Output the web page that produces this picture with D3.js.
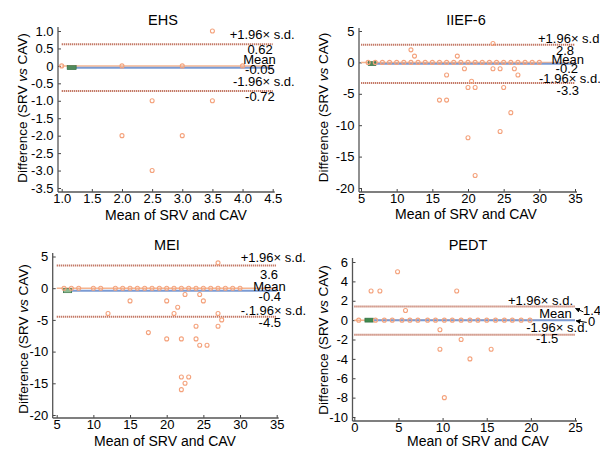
<!DOCTYPE html>
<html>
<head>
<meta charset="utf-8">
<script src="https://cdn.jsdelivr.net/npm/d3@7"></script>
<style>
  body { margin: 0; background: #fff; }
  text { font-family: "Liberation Sans", Arial, sans-serif; fill: #000; }
</style>
</head>
<body>
<script>
// ---- data ----
// EHS
const ehsAvg  = [1.0, 2.0, 3.0, 4.0, 3.5, 2.5, 3.5, 2.0, 3.0, 2.5];
const ehsDiff = [0, 0, 0, 0, 1, -1, -1, -2, -2, -3];
const ehsLimits = [0.62, -0.05, -0.72];
const ehsLimitText = ["0.62", "-0.05", "-0.72"];
const ehsXTicks = [1.0, 1.5, 2.0, 2.5, 3.0, 3.5, 4.0, 4.5];
const ehsYTicks = [1.0, 0.5, 0, -0.5, -1.0, -1.5, -2.0, -2.5, -3.0, -3.5];

// IIEF-6
const iiefAvg  = [6, 7, 8, 9, 10, 11, 12, 13, 14, 15, 16, 17, 18, 19, 20, 21, 22, 23, 24, 25, 26, 27, 28, 29, 30,
                  12, 12.5, 18.5, 23.5, 19.5, 17, 20.5, 20, 21, 23.5, 24.5, 26.5, 27, 25, 16, 17, 26, 24.5, 20, 21];
const iiefDiff = [0, 0, 0, 0, 0, 0, 0, 0, 0, 0, 0, 0, 0, 0, 0, 0, 0, 0, 0, 0, 0, 0, 0, 0, 0,
                  2, 1, 1, 3, -1, -2, -3, -4, -4, -1, -1, -1, -2, -4, -6, -6, -8, -11, -12, -18];
const iiefLimits = [2.8, -0.2, -3.3];
const iiefLimitText = ["2.8", "-0.2", "-3.3"];
const iiefXTicks = [5, 10, 15, 20, 25, 30, 35];
const iiefYTicks = [5, 0, -5, -10, -15, -20];

// MEI
const meiAvg  = [6, 7, 8, 10, 11, 13, 14, 15, 16, 17, 18, 19, 20, 21, 22, 23, 24, 25, 26, 27, 28, 29, 30,
                 27, 22.5, 24.5, 15, 20, 25, 21.5, 12, 21, 27, 27.5, 24, 27, 17.5, 20, 22, 24, 24.5, 25.5, 22, 23, 22.5, 22];
const meiDiff = [0, 0, 0, 0, 0, 0, 0, 0, 0, 0, 0, 0, 0, 0, 0, 0, 0, 0, 0, 0, 0, 0, 0,
                 4, -1, -1, -2, -2, -2, -3, -4, -4, -4, -5, -6, -6, -7, -8, -8, -8, -9, -9, -14, -14, -15, -16];
const meiLimits = [3.6, -0.4, -4.5];
const meiLimitText = ["3.6", "-0.4", "-4.5"];
const meiXTicks = [5, 10, 15, 20, 25, 30, 35];
const meiYTicks = [5, 0, -5, -10, -15, -20];

// PEDT
const pedtAvg  = [0.5, 2.4, 3.4, 4.3, 5.4, 6.3, 7.2, 8.3, 9.2, 10.2, 11.1, 12.1, 13.1, 14.0, 15.0, 16.0, 17.0, 17.9, 18.9, 19.9,
                  4.9, 1.9, 2.9, 11.6, 5.8, 9.7, 9.7, 12.1, 13.1, 15.5, 10.2];
const pedtDiff = [0, 0, 0, 0, 0, 0, 0, 0, 0, 0, 0, 0, 0, 0, 0, 0, 0, 0, 0, 0,
                  5, 3, 3, 3, 1, -1, -3, -2, -4, -3, -8];
const pedtLimits = [1.4, 0, -1.5];
const pedtLimitText = ["1.4", "0", "-1.5"];
const pedtXTicks = [0, 5, 10, 15, 20, 25];
const pedtYTicks = [6, 4, 2, 0, -2, -4, -6, -8, -10];

const limitNames = ["+1.96\u00d7 s.d.", "Mean", "-1.96\u00d7 s.d."];

// ---- layout ----
const W = 600, H = 449;
const svg = d3.select("body").append("svg").attr("width", W).attr("height", H);

const fmt1 = d => d === 0 ? "0" : d.toFixed(1);
const fmt0 = d => String(d);

const panels = [
  { title: "EHS", avg: ehsAvg, diff: ehsDiff, limits: ehsLimits, limitText: ehsLimitText, names: limitNames,
    xDomain: [1, 4.5], xRange: [61.7, 272.7], yDomain: [-3.5, 1], yRange: [188, 31],
    xTicks: ehsXTicks, yTicks: ehsYTicks, xFmt: fmt1, yFmt: fmt1,
    yAxisX: 58, xAxisY: 192, yAxisTop: 27, green: [1.09, 1.24], greenFill: "#4f8a5c",
    titleXY: [163, 25], xLabXY: [176, 220], yLabXY: [22, 108],
    lab: [
      { name: ["end", 22, -5], val: ["end", 0, 10] },
      { name: ["end", 3, -4], val: ["end", 2, 6.5] },
      { name: ["end", 22, -5], val: ["end", 2, 10] } ] },
  { title: "IIEF-6", avg: iiefAvg, diff: iiefDiff, limits: iiefLimits, limitText: iiefLimitText, names: limitNames,
    xDomain: [5, 35], xRange: [361, 575], yDomain: [-20, 5], yRange: [188, 31],
    xTicks: iiefXTicks, yTicks: iiefYTicks, xFmt: fmt0, yFmt: fmt0,
    yAxisX: 359, xAxisY: 192, yAxisTop: 28, green: [6.0, 7.1], greenFill: "#4f8a5c",
    titleXY: [466, 25], xLabXY: [466, 219], yLabXY: [323, 107.5],
    lab: [
      { name: ["start", -37, -2], val: ["end", -1, 10] },
      { name: ["end", 9, 0.6], val: ["end", 3, 9] },
      { name: ["start", -36, 0.2], val: ["end", 4, 12] } ] },
  { title: "MEI", avg: meiAvg, diff: meiDiff, limits: meiLimits, limitText: meiLimitText,
    names: ["+1.96\u00d7 s.d.", "Mean", "-.1.96\u00d7 s.d."],
    xDomain: [5, 35], xRange: [56.7, 276.7], yDomain: [-20, 5], yRange: [415, 256.5],
    xTicks: meiXTicks, yTicks: meiYTicks, xFmt: fmt0, yFmt: fmt0,
    yAxisX: 52.7, xAxisY: 418, yAxisTop: 253, green: [5.9, 7.05], greenFill: "#8fbb93",
    titleXY: [167, 250], xLabXY: [165, 446], yLabXY: [23, 339],
    lab: [
      { name: ["start", -36, -3.2], val: ["end", 1.3, 13.5] },
      { name: ["end", 9, 0], val: ["end", 4.3, 10] },
      { name: ["start", -36, -1.8], val: ["end", 4.3, 10] } ] },
  { title: "PEDT", avg: pedtAvg, diff: pedtDiff, limits: pedtLimits, limitText: pedtLimitText, names: limitNames,
    xDomain: [0, 25], xRange: [354.3, 575], yDomain: [-10, 6], yRange: [417, 262],
    xTicks: pedtXTicks, yTicks: pedtYTicks, xFmt: fmt0, yFmt: fmt0,
    yAxisX: 352.5, xAxisY: 421, yAxisTop: 258, green: [1.2, 2.15], greenFill: "#3f8a4f",
    titleXY: [468, 250], xLabXY: [478, 446], yLabXY: [323, 340],
    lab: [
      { name: ["end", -2, -2], val: ["start", 8, 8], arrow: [8.3, 5.3, 0.5, 1.8] },
      { name: ["end", -3.3, -2.3], val: ["start", 13, 5.7], arrow: [11.7, 2.3, 1, 0.6] },
      { name: ["end", 13, -2.8], val: ["end", -16.7, 8.8] } ] }
];

svg.append("defs").append("marker")
    .attr("id", "arr")
    .attr("viewBox", "0 0 10 10")
    .attr("refX", 9).attr("refY", 5)
    .attr("markerWidth", 5).attr("markerHeight", 5)
    .attr("orient", "auto")
  .append("path")
    .attr("d", "M0,0L10,5L0,10z")
    .attr("fill", "#000");

panels.forEach(drawPanel);

function drawPanel(p) {
  var g = svg.append("g");
  var x = d3.scaleLinear().domain(p.xDomain).range(p.xRange);
  var y = d3.scaleLinear().domain(p.yDomain).range(p.yRange);
  var x0 = p.xRange[0], x1 = p.xRange[1];

  // axes
  var yAx = g.append("g")
      .attr("transform", "translate(" + p.yAxisX + ",0)")
      .call(d3.axisLeft(y).tickValues(p.yTicks).tickFormat(p.yFmt)
              .tickSizeInner(-3).tickSizeOuter(0).tickPadding(4.5));
  var xAx = g.append("g")
      .attr("transform", "translate(0," + p.xAxisY + ")")
      .call(d3.axisBottom(x).tickValues(p.xTicks).tickFormat(p.xFmt)
              .tickSizeInner(-3).tickSizeOuter(0).tickPadding(2));
  [yAx, xAx].forEach(function(a) {
    a.select(".domain").remove();
    a.attr("font-family", null).attr("font-size", null);
    a.selectAll("line").attr("stroke", "#444");
    a.selectAll("text").attr("font-size", 13).attr("fill", "#000");
  });
  g.append("line")
      .attr("x1", p.yAxisX).attr("x2", p.yAxisX)
      .attr("y1", p.yAxisTop).attr("y2", p.xAxisY)
      .attr("stroke", "#555").attr("stroke-width", 1.3);
  g.append("line")
      .attr("x1", p.yAxisX).attr("x2", x1 + 2)
      .attr("y1", p.xAxisY).attr("y2", p.xAxisY)
      .attr("stroke", "#555").attr("stroke-width", 1.3);

  // zero line
  g.append("line")
      .attr("x1", x0).attr("x2", x1)
      .attr("y1", y(0)).attr("y2", y(0))
      .attr("stroke", "#f6b48e").attr("stroke-width", 1.5);

  // limits of agreement
  [0, 2].forEach(function(i) {
    g.append("line")
        .attr("x1", x0).attr("x2", x1)
        .attr("y1", y(p.limits[i])).attr("y2", y(p.limits[i]))
        .attr("stroke", "#c47966").attr("stroke-width", 2)
        .attr("stroke-dasharray", "1.3 0.7");
  });

  // mean line + green marker
  g.append("line")
      .attr("x1", x(p.green[0])).attr("x2", x1)
      .attr("y1", y(p.limits[1])).attr("y2", y(p.limits[1]))
      .attr("stroke", "#7b9bd3").attr("stroke-width", 2);
  g.append("rect")
      .attr("x", x(p.green[0])).attr("y", y(p.limits[1]) - 2)
      .attr("width", x(p.green[1]) - x(p.green[0])).attr("height", 4)
      .attr("fill", p.greenFill).attr("stroke", "#2f6a3c").attr("stroke-width", 0.6);

  // points
  g.append("g").selectAll("circle")
    .data(p.avg.map(function(d, i) { return [d, p.diff[i]]; }))
    .enter().append("circle")
      .attr("cx", function(d) { return x(d[0]); })
      .attr("cy", function(d) { return y(d[1]); })
      .attr("r", 2)
      .attr("fill", "none")
      .attr("stroke", "#f4a27c")
      .attr("stroke-width", 1.1);

  // limit labels
  p.lab.forEach(function(l, i) {
    var ly = y(p.limits[i]);
    g.append("text")
        .attr("x", x1 + l.name[1]).attr("y", ly + l.name[2])
        .attr("text-anchor", l.name[0])
        .attr("font-size", 13)
        .text(p.names[i]);
    g.append("text")
        .attr("x", x1 + l.val[1]).attr("y", ly + l.val[2])
        .attr("text-anchor", l.val[0])
        .attr("font-size", 13)
        .text(p.limitText[i]);
    if (l.arrow) {
      g.append("line")
          .attr("x1", x1 + l.arrow[0]).attr("y1", ly + l.arrow[1])
          .attr("x2", x1 + l.arrow[2]).attr("y2", ly + l.arrow[3])
          .attr("stroke", "#000").attr("stroke-width", 1)
          .attr("marker-end", "url(#arr)");
    }
  });

  // titles
  g.append("text")
      .attr("x", p.titleXY[0]).attr("y", p.titleXY[1])
      .attr("text-anchor", "middle").attr("font-size", 14.5)
      .text(p.title);
  g.append("text")
      .attr("x", p.xLabXY[0]).attr("y", p.xLabXY[1])
      .attr("text-anchor", "middle").attr("font-size", 14)
      .text("Mean of SRV and CAV");
  var yl = g.append("text")
      .attr("transform", "translate(" + p.yLabXY[0] + "," + p.yLabXY[1] + ") rotate(-90)")
      .attr("text-anchor", "middle").attr("dy", "0.35em")
      .attr("font-size", 13.5);
  yl.append("tspan").text("Difference (SRV ");
  yl.append("tspan").attr("font-style", "italic").text("vs");
  yl.append("tspan").text(" CAV)");
}
</script>
</body>
</html>
